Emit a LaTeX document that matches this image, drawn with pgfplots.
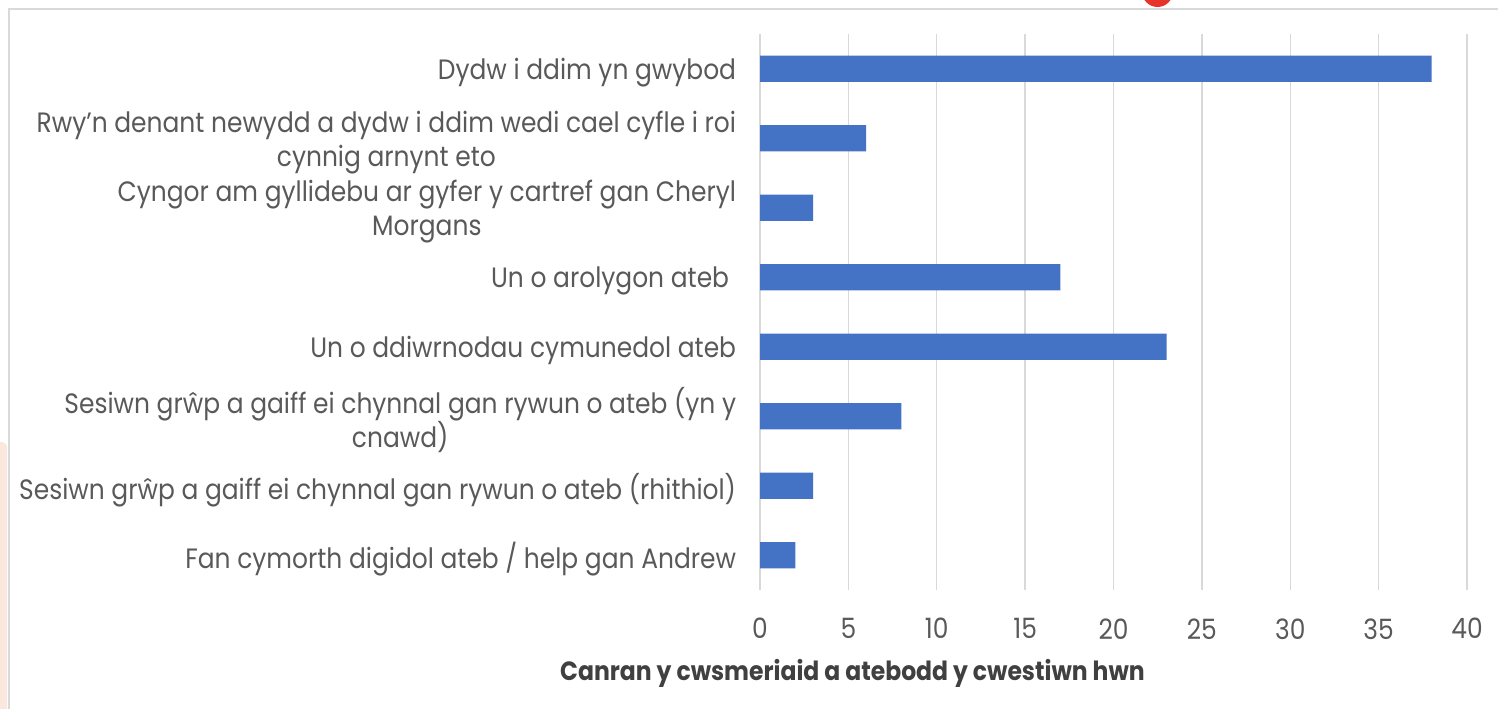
\documentclass[border=0pt]{standalone}
\usepackage{fontspec}
\setmainfont{Poppins}[FakeStretch=0.89]
\usepackage{pgfplots}
\pgfplotsset{compat=1.18}
\definecolor{barblue}{HTML}{4472C4}
\definecolor{labelgray}{HTML}{595959}
\definecolor{gridgray}{HTML}{D9D9D9}
\definecolor{titlegray}{HTML}{404040}
\definecolor{peach}{HTML}{FBE7DD}
\definecolor{badge}{HTML}{E8332A}

\begin{document}
\begin{tikzpicture}
\useasboundingbox (0,0) rectangle (749pt,354pt);
\fill[white] (0,0) rectangle (749pt,354pt);
% page decorations around the chart
\fill[peach, rounded corners=3pt] (-5pt,-5pt) rectangle (3.6pt,133pt);
\fill[badge] (578.75pt,358.25pt) circle (7.75pt);
\draw[gridgray, line width=1pt] (4.5pt,-2pt) -- (4.5pt,349.5pt) -- (760pt,349.5pt);

\begin{axis}[
  at={(380pt,59pt)}, anchor=south west,
  scale only axis, width=353.5pt, height=278pt,
  xbar, bar width=0.375,
  xmin=0, xmax=40, ymin=-0.5, ymax=7.5, y dir=reverse,
  xtick={0,5,...,40}, ytick={0,...,7},
  yticklabels={
    {Dydw i ddim yn gwybod},
    {Rwy’n denant newydd a dydw i ddim wedi cael cyfle i roi\\cynnig arnynt eto},
    {Cyngor am gyllidebu ar gyfer y cartref gan Cheryl\\Morgans},
    {Un o arolygon ateb\kern3.5pt},
    {Un o ddiwrnodau cymunedol ateb},
    {Sesiwn grŵp a gaiff ei chynnal gan rywun o ateb (yn y\\cnawd)},
    {Sesiwn grŵp a gaiff ei chynnal gan rywun o ateb (rhithiol)},
    {Fan cymorth digidol ateb / help gan Andrew}},
  xmajorgrids, major grid style={gridgray, line width=0.7pt},
  axis line style={draw=none}, tick style={draw=none},
  /pgf/number format/assume math mode=true,
  ticklabel style={font=\fontsize{14}{17}\selectfont, text=labelgray},
  yticklabel style={anchor=east, align=center, inner sep=0pt, xshift=-7.5pt, yshift=-2pt},
  xticklabel style={anchor=north, inner sep=0pt, yshift=-14pt},
  xlabel={Canran y cwsmeriaid a atebodd y cwestiwn hwn},
  xlabel style={at={(axis description cs:0.1308,-0.162)}, anchor=base,
    font=\fontsize{13.2}{15}\selectfont\bfseries, text=titlegray},
]
\addplot[fill=barblue, draw=none] coordinates {
  (38,0) (6,1) (3,2) (17,3) (23,4) (8,5) (3,6) (2,7)
};
\end{axis}
\end{tikzpicture}
\end{document}
